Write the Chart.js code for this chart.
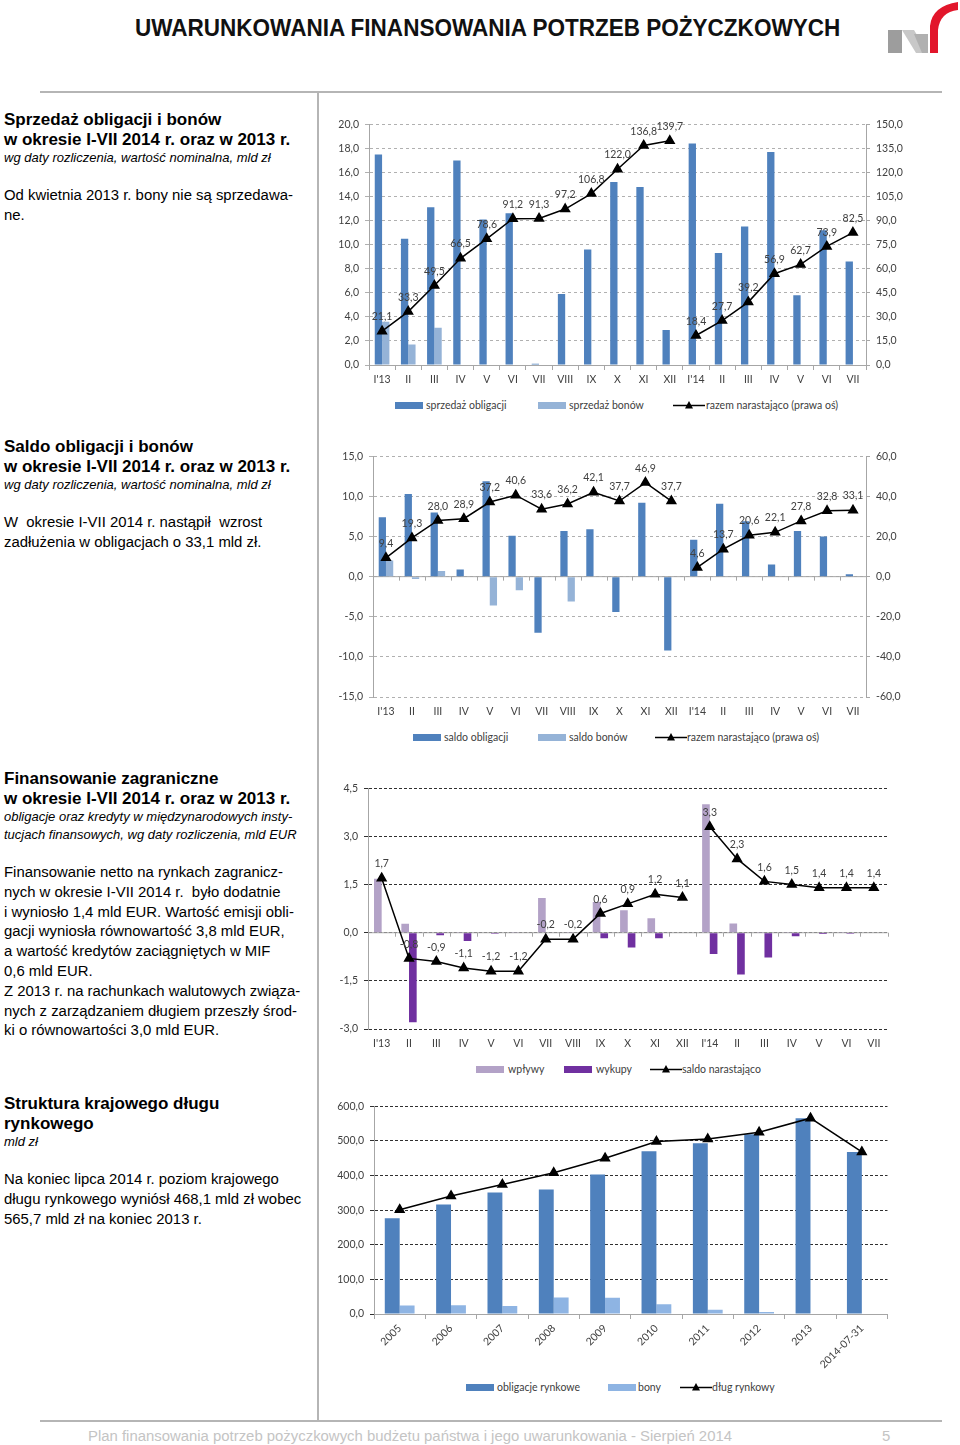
<!DOCTYPE html>
<html>
<head>
<meta charset="utf-8">
<script src="https://cdn.jsdelivr.net/npm/chart.js@4.4.1/dist/chart.umd.min.js"></script>
<style>
body{margin:0;width:960px;height:1445px;position:relative;background:#fff;font-family:"Liberation Sans",Arial,sans-serif;color:#000;overflow:hidden}
.abs{position:absolute}
#hdr{top:15px;left:135px;font-family:"Liberation Sans Narrow","Liberation Sans",Arial,sans-serif;font-size:23px;font-weight:bold;white-space:nowrap;transform-origin:0 0;color:#111}
.rule{position:absolute;background:#b5b5b5}
.blk{position:absolute;left:4px;width:312px}
.blk h2{margin:0;font-size:17px;line-height:19.5px;font-weight:bold}
.blk .sub{font-style:italic;font-size:13px;line-height:18px}
.blk p{margin:0;font-size:14.9px;line-height:19.8px}
.cw{position:absolute}
.lb{position:absolute;width:28px;height:7px}
.lt{position:absolute;font-family:Lato,"Open Sans",sans-serif;font-size:10.5px;color:#404040;line-height:12px;white-space:nowrap}
.ll{position:absolute}
#foot{left:88px;top:1428px;font-size:14.9px;color:#c4c4c4;white-space:nowrap}
#pg{left:882px;top:1428px;font-size:14.9px;color:#c4c4c4}
</style>
</head>
<body>

<div id="hdr" class="abs">UWARUNKOWANIA FINANSOWANIA POTRZEB POŻYCZKOWYCH</div>
<svg class="abs" style="left:884px;top:0" width="76" height="56" viewBox="0 0 76 56">
  <polygon points="4,30 18,30 18,53 4,53" fill="#9d9d9d"/>
  <polygon points="18,30 30,30 44,53 32,53" fill="#c8c8c8"/>
  <polygon points="30,34 44,34 44,53 38,53" fill="#b0b0b0"/>
  <path d="M46,53 L46,26 Q48,6 74,2 L74,10 Q56,12 54,30 L54,53 Z" fill="#e2162b"/>
</svg>

<div class="rule" style="left:40px;top:91px;width:902px;height:2px"></div>
<div class="rule" style="left:317px;top:93px;width:2px;height:1328px"></div>
<div class="rule" style="left:40px;top:1420px;width:902px;height:2px"></div>

<div class="blk" style="top:110px">
<h2>Sprzedaż obligacji i bonów<br>w okresie I-VII 2014 r. oraz w 2013 r.</h2>
<div class="sub">wg daty rozliczenia, wartość nominalna, mld zł</div>
<p style="margin-top:19px">Od kwietnia 2013 r. bony nie są sprzedawa-<br>ne.</p>
</div>

<div class="blk" style="top:437px">
<h2>Saldo obligacji i bonów<br>w okresie I-VII 2014 r. oraz w 2013 r.</h2>
<div class="sub">wg daty rozliczenia, wartość nominalna, mld zł</div>
<p style="margin-top:19px">W &nbsp;okresie I-VII 2014 r. nastąpił &nbsp;wzrost<br>zadłużenia w obligacjach o 33,1 mld zł.</p>
</div>

<div class="blk" style="top:769px">
<h2>Finansowanie zagraniczne<br>w okresie I-VII 2014 r. oraz w 2013 r.</h2>
<div class="sub">obligacje oraz kredyty w międzynarodowych insty-<br>tucjach finansowych, wg daty rozliczenia, mld EUR</div>
<p style="margin-top:19px">Finansowanie netto na rynkach zagranicz-<br>nych w okresie I-VII 2014 r. &nbsp;było dodatnie<br>i wyniosło 1,4 mld EUR. Wartość emisji obli-<br>gacji wyniosła równowartość 3,8 mld EUR,<br>a wartość kredytów zaciągniętych w MIF<br>0,6 mld EUR.<br>Z 2013 r. na rachunkach walutowych związa-<br>nych z zarządzaniem długiem przeszły środ-<br>ki o równowartości 3,0 mld EUR.</p>
</div>

<div class="blk" style="top:1094px">
<h2>Struktura krajowego długu<br>rynkowego</h2>
<div class="sub">mld zł</div>
<p style="margin-top:19px">Na koniec lipca 2014 r. poziom krajowego<br>długu rynkowego wyniósł 468,1 mld zł wobec<br>565,7 mld zł na koniec 2013 r.</p>
</div>

<div class="cw" style="left:329px;top:112px;width:581px;height:277px"><canvas id="c1"></canvas></div>
<div class="cw" style="left:333px;top:444px;width:577px;height:277px"><canvas id="c2"></canvas></div>
<div class="cw" style="left:328px;top:776px;width:566px;height:277px"><canvas id="c3"></canvas></div>
<div class="cw" style="left:334px;top:1094px;width:560px;height:280px"><canvas id="c4"></canvas></div>

<!-- legends -->
<div class="lb" style="left:395px;top:402px;background:#4f81bd"></div><div class="lt" style="left:426px;top:399px">sprzedaż obligacji</div>
<div class="lb" style="left:538px;top:402px;background:#95b3d7"></div><div class="lt" style="left:569px;top:399px">sprzedaż bonów</div>
<svg class="ll" style="left:673px;top:400px" width="32" height="10"><line x1="0" y1="5.5" x2="32" y2="5.5" stroke="#000" stroke-width="1.5"/><polygon points="16,1 20,8.5 12,8.5" fill="#000"/></svg><div class="lt" style="left:706px;top:399px">razem narastająco (prawa oś)</div>

<div class="lb" style="left:413px;top:734px;background:#4f81bd"></div><div class="lt" style="left:444px;top:731px">saldo obligacji</div>
<div class="lb" style="left:538px;top:734px;background:#95b3d7"></div><div class="lt" style="left:569px;top:731px">saldo bonów</div>
<svg class="ll" style="left:655px;top:732px" width="32" height="10"><line x1="0" y1="5.5" x2="32" y2="5.5" stroke="#000" stroke-width="1.5"/><polygon points="16,1 20,8.5 12,8.5" fill="#000"/></svg><div class="lt" style="left:687px;top:731px">razem narastająco (prawa oś)</div>

<div class="lb" style="left:476px;top:1066px;background:#b3a2c7"></div><div class="lt" style="left:508px;top:1063px">wpływy</div>
<div class="lb" style="left:564px;top:1066px;background:#7030a0"></div><div class="lt" style="left:596px;top:1063px">wykupy</div>
<svg class="ll" style="left:650px;top:1064px" width="32" height="10"><line x1="0" y1="5.5" x2="32" y2="5.5" stroke="#000" stroke-width="1.5"/><polygon points="16,1 20,8.5 12,8.5" fill="#000"/></svg><div class="lt" style="left:682px;top:1063px">saldo narastająco</div>

<div class="lb" style="left:466px;top:1384px;background:#4f81bd"></div><div class="lt" style="left:497px;top:1381px">obligacje rynkowe</div>
<div class="lb" style="left:608px;top:1384px;background:#8eb4e3"></div><div class="lt" style="left:638px;top:1381px">bony</div>
<svg class="ll" style="left:680px;top:1382px" width="32" height="10"><line x1="0" y1="5.5" x2="32" y2="5.5" stroke="#000" stroke-width="1.5"/><polygon points="16,1 20,8.5 12,8.5" fill="#000"/></svg><div class="lt" style="left:712px;top:1381px">dług rynkowy</div>

<div id="foot" class="abs">Plan finansowania potrzeb pożyczkowych budżetu państwa i jego uwarunkowania - Sierpień 2014</div>
<div id="pg" class="abs">5</div>

<script>
// ---- data ----
const months = ["I'13","II","III","IV","V","VI","VII","VIII","IX","X","XI","XII","I'14","II","III","IV","V","VI","VII"];

// sprzedaż (mld zł)
const saleBonds = [17.5,10.5,13.1,17.0,12.1,12.6,0.1,5.9,9.6,15.2,14.8,2.9,18.4,9.3,11.5,17.7,5.8,11.2,8.6];
const saleBills = [3.6,1.7,3.1,0,0,0,0,0,0,0,0,0,0,0,0,0,0,0,0];
const saleCumul = [21.1,33.3,49.5,66.5,78.6,91.2,91.3,97.2,106.8,122.0,136.8,139.7,18.4,27.7,39.2,56.9,62.7,73.9,82.5];

// saldo (mld zł)
const netBonds = [7.4,10.3,8.0,0.9,11.9,5.1,-7.0,5.7,5.9,-4.4,9.2,-9.2,4.6,9.1,6.9,1.5,5.7,5.0,0.3];
const netBills = [2.0,-0.3,0.7,0,-3.6,-1.7,0,-3.1,0,0,0,0,0,0,0,0,0,0,0];
const netCumul = [9.4,19.3,28.0,28.9,37.2,40.6,33.6,36.2,42.1,37.7,46.9,37.7,4.6,13.7,20.6,22.1,27.8,32.8,33.1];

// finansowanie zagraniczne (mld EUR)
const inflows = [1.68,0.28,0,0.02,0,0.02,1.08,0.02,0.96,0.70,0.45,0,4.0,0.29,0.01,0.02,0,0.01,0];
const redemptions = [0,-2.79,-0.08,-0.26,-0.03,-0.02,0,0,-0.17,-0.46,-0.17,-0.02,-0.66,-1.30,-0.77,-0.11,-0.04,-0.03,-0.02];
const foreignCumul = [1.7,-0.8,-0.9,-1.1,-1.2,-1.2,-0.2,-0.2,0.6,0.9,1.2,1.1,3.3,2.3,1.6,1.5,1.4,1.4,1.4];

// struktura długu (mld zł)
const years = ["2005","2006","2007","2008","2009","2010","2011","2012","2013","2014-07-31"];
const marketBonds = [276.8,316.0,351.0,360.0,403.0,470.0,493.0,519.0,565.7,468.1];
const marketBills = [24.5,25.0,23.0,48.0,47.0,28.0,12.5,6.0,0,0];
const marketDebt = [301.3,341.0,374.0,408.0,450.0,498.0,505.5,525.0,565.7,468.1];

// ---- helpers ----
const fmt = v => Number(v).toFixed(1).replace('.', ',');
const TXT = "#404040";
const FONT = {family:"Lato, 'Open Sans', sans-serif", size:10.5};

// header fitted to reference width
const hdr = document.getElementById("hdr");
hdr.style.transform = "scaleX(" + (705 / hdr.offsetWidth) + ")";

const pointLabels = {
  id:"pointLabels",
  afterDatasetsDraw(chart, args, opts){
    if(opts.dataset == null) return;
    const meta = chart.getDatasetMeta(opts.dataset);
    const data = chart.data.datasets[opts.dataset].data;
    const ctx = chart.ctx;
    ctx.save();
    ctx.font = "10.5px Lato, 'Open Sans', sans-serif";
    ctx.fillStyle = TXT;
    ctx.textAlign = "center";
    ctx.textBaseline = "bottom";
    meta.data.forEach((pt,i)=>{
      if(data[i] == null) return;
      ctx.fillText(fmt(data[i]), pt.x + (opts.dx || 0), pt.y + (opts.dy || -8));
    });
    ctx.restore();
  }
};

const zeroLine = {
  id:"zeroLine",
  beforeDatasetsDraw(chart, args, opts){
    if(!opts.axis) return;
    const y = chart.scales[opts.axis].getPixelForValue(0);
    const a = chart.chartArea, x = chart.scales.x;
    const n = chart.data.labels.length, w = (a.right - a.left) / n;
    const ctx = chart.ctx;
    ctx.save();
    ctx.strokeStyle = "#a6a6a6";
    ctx.lineWidth = 1;
    ctx.beginPath();
    ctx.moveTo(a.left, y); ctx.lineTo(a.right, y);
    for(let i=1;i<=n;i++){
      const xx = Math.round(x.left + i*w) + 0.5;
      ctx.moveTo(xx, y); ctx.lineTo(xx, y + 4);
    }
    ctx.stroke();
    ctx.restore();
  }
};

Chart.register(pointLabels, zeroLine);
Chart.defaults.font.family = FONT.family;
Chart.defaults.color = TXT;
Chart.defaults.animation = false;
Chart.defaults.maintainAspectRatio = false;
Chart.defaults.plugins.legend.display = false;
Chart.defaults.plugins.tooltip.enabled = false;

function lineSet(data, axis, gapAt){
  return {
    type:"line", label:"line", data, yAxisID:axis, order:0,
    borderColor:"#000", borderWidth:1.5, backgroundColor:"#000",
    pointStyle:"triangle", pointRadius:5, pointBackgroundColor:"#000",
    segment:{borderColor: c => (gapAt != null && c.p0DataIndex === gapAt) ? "rgba(0,0,0,0)" : "#000"}
  };
}
function barSet(data, color){
  return {type:"bar", data, backgroundColor:color, yAxisID:"y", order:1,
    categoryPercentage:0.56, barPercentage:1};
}
function yScale(min, max, step, gridColor, dash, width){
  return {
    position:"left", min, max,
    ticks:{stepSize:step, callback:fmt, font:FONT, color:TXT, padding:6},
    grid:{color:gridColor, tickLength:4},
    border:{color:"#a6a6a6", dash},
    afterFit: s => { s.width = width; }
  };
}
function rightScale(min, max, step){
  return {
    position:"right", min, max,
    ticks:{stepSize:step, callback:fmt, font:FONT, color:TXT, padding:6},
    grid:{drawOnChartArea:false, tickLength:4, color:"#a6a6a6"},
    border:{color:"#a6a6a6"},
    afterFit: s => { s.width = 44; }
  };
}
function xScale(axisLine, h, rot){
  return {
    offset:true,
    ticks:{font:FONT, color:TXT, autoSkip:false, maxRotation:rot || 0, minRotation:rot || 0, padding:3},
    grid:{display:axisLine, drawOnChartArea:false, tickLength:5, color:"#a6a6a6", offset:true},
    border:{display:axisLine, color:"#a6a6a6"},
    afterFit: s => { s.height = h; }
  };
}

// ---- chart 1: sprzedaż ----
new Chart(document.getElementById("c1"), {
  data:{labels:months, datasets:[
    lineSet(saleCumul, "y2", 11),
    barSet(saleBonds, "#4f81bd"),
    barSet(saleBills, "#95b3d7")
  ]},
  options:{
    layout:{padding:{top:10, left:0, right:0, bottom:0}},
    scales:{x:xScale(true, 24), y:yScale(0, 20, 2, "#b0b0b0", [3,3], 40), y2:rightScale(0, 150, 15)},
    plugins:{pointLabels:{dataset:0, dy:-9}}
  }
});

// ---- chart 2: saldo ----
new Chart(document.getElementById("c2"), {
  data:{labels:months, datasets:[
    lineSet(netCumul, "y2", 11),
    barSet(netBonds, "#4f81bd"),
    barSet(netBills, "#95b3d7")
  ]},
  options:{
    layout:{padding:{top:10, left:0, right:0, bottom:0}},
    scales:{x:xScale(false, 24), y:yScale(-15, 15, 5, "#b0b0b0", [3,3], 40), y2:rightScale(-60, 60, 20)},
    plugins:{pointLabels:{dataset:0, dy:-9}, zeroLine:{axis:"y"}}
  }
});

// ---- chart 3: finansowanie zagraniczne ----
new Chart(document.getElementById("c3"), {
  data:{labels:months, datasets:[
    lineSet(foreignCumul, "y", 11),
    barSet(inflows, "#b3a2c7"),
    barSet(redemptions, "#7030a0")
  ]},
  options:{
    layout:{padding:{top:10, left:0, right:0, bottom:0}},
    scales:{x:xScale(false, 24), y:yScale(-3, 4.5, 1.5, "#303030", [3,2], 40)},
    plugins:{pointLabels:{dataset:0, dy:-9}, zeroLine:{axis:"y"}}
  }
});

// ---- chart 4: struktura długu ----
new Chart(document.getElementById("c4"), {
  data:{labels:years, datasets:[
    lineSet(marketDebt, "y", null),
    Object.assign(barSet(marketBonds, "#4f81bd"), {categoryPercentage:0.58}),
    Object.assign(barSet(marketBills, "#8eb4e3"), {categoryPercentage:0.58})
  ]},
  options:{
    layout:{padding:{top:10, left:0, right:0, bottom:0}},
    scales:{x:xScale(true, 60, 45), y:yScale(0, 600, 100, "#303030", [3,2], 40)}
  }
});
</script>
</body>
</html>
